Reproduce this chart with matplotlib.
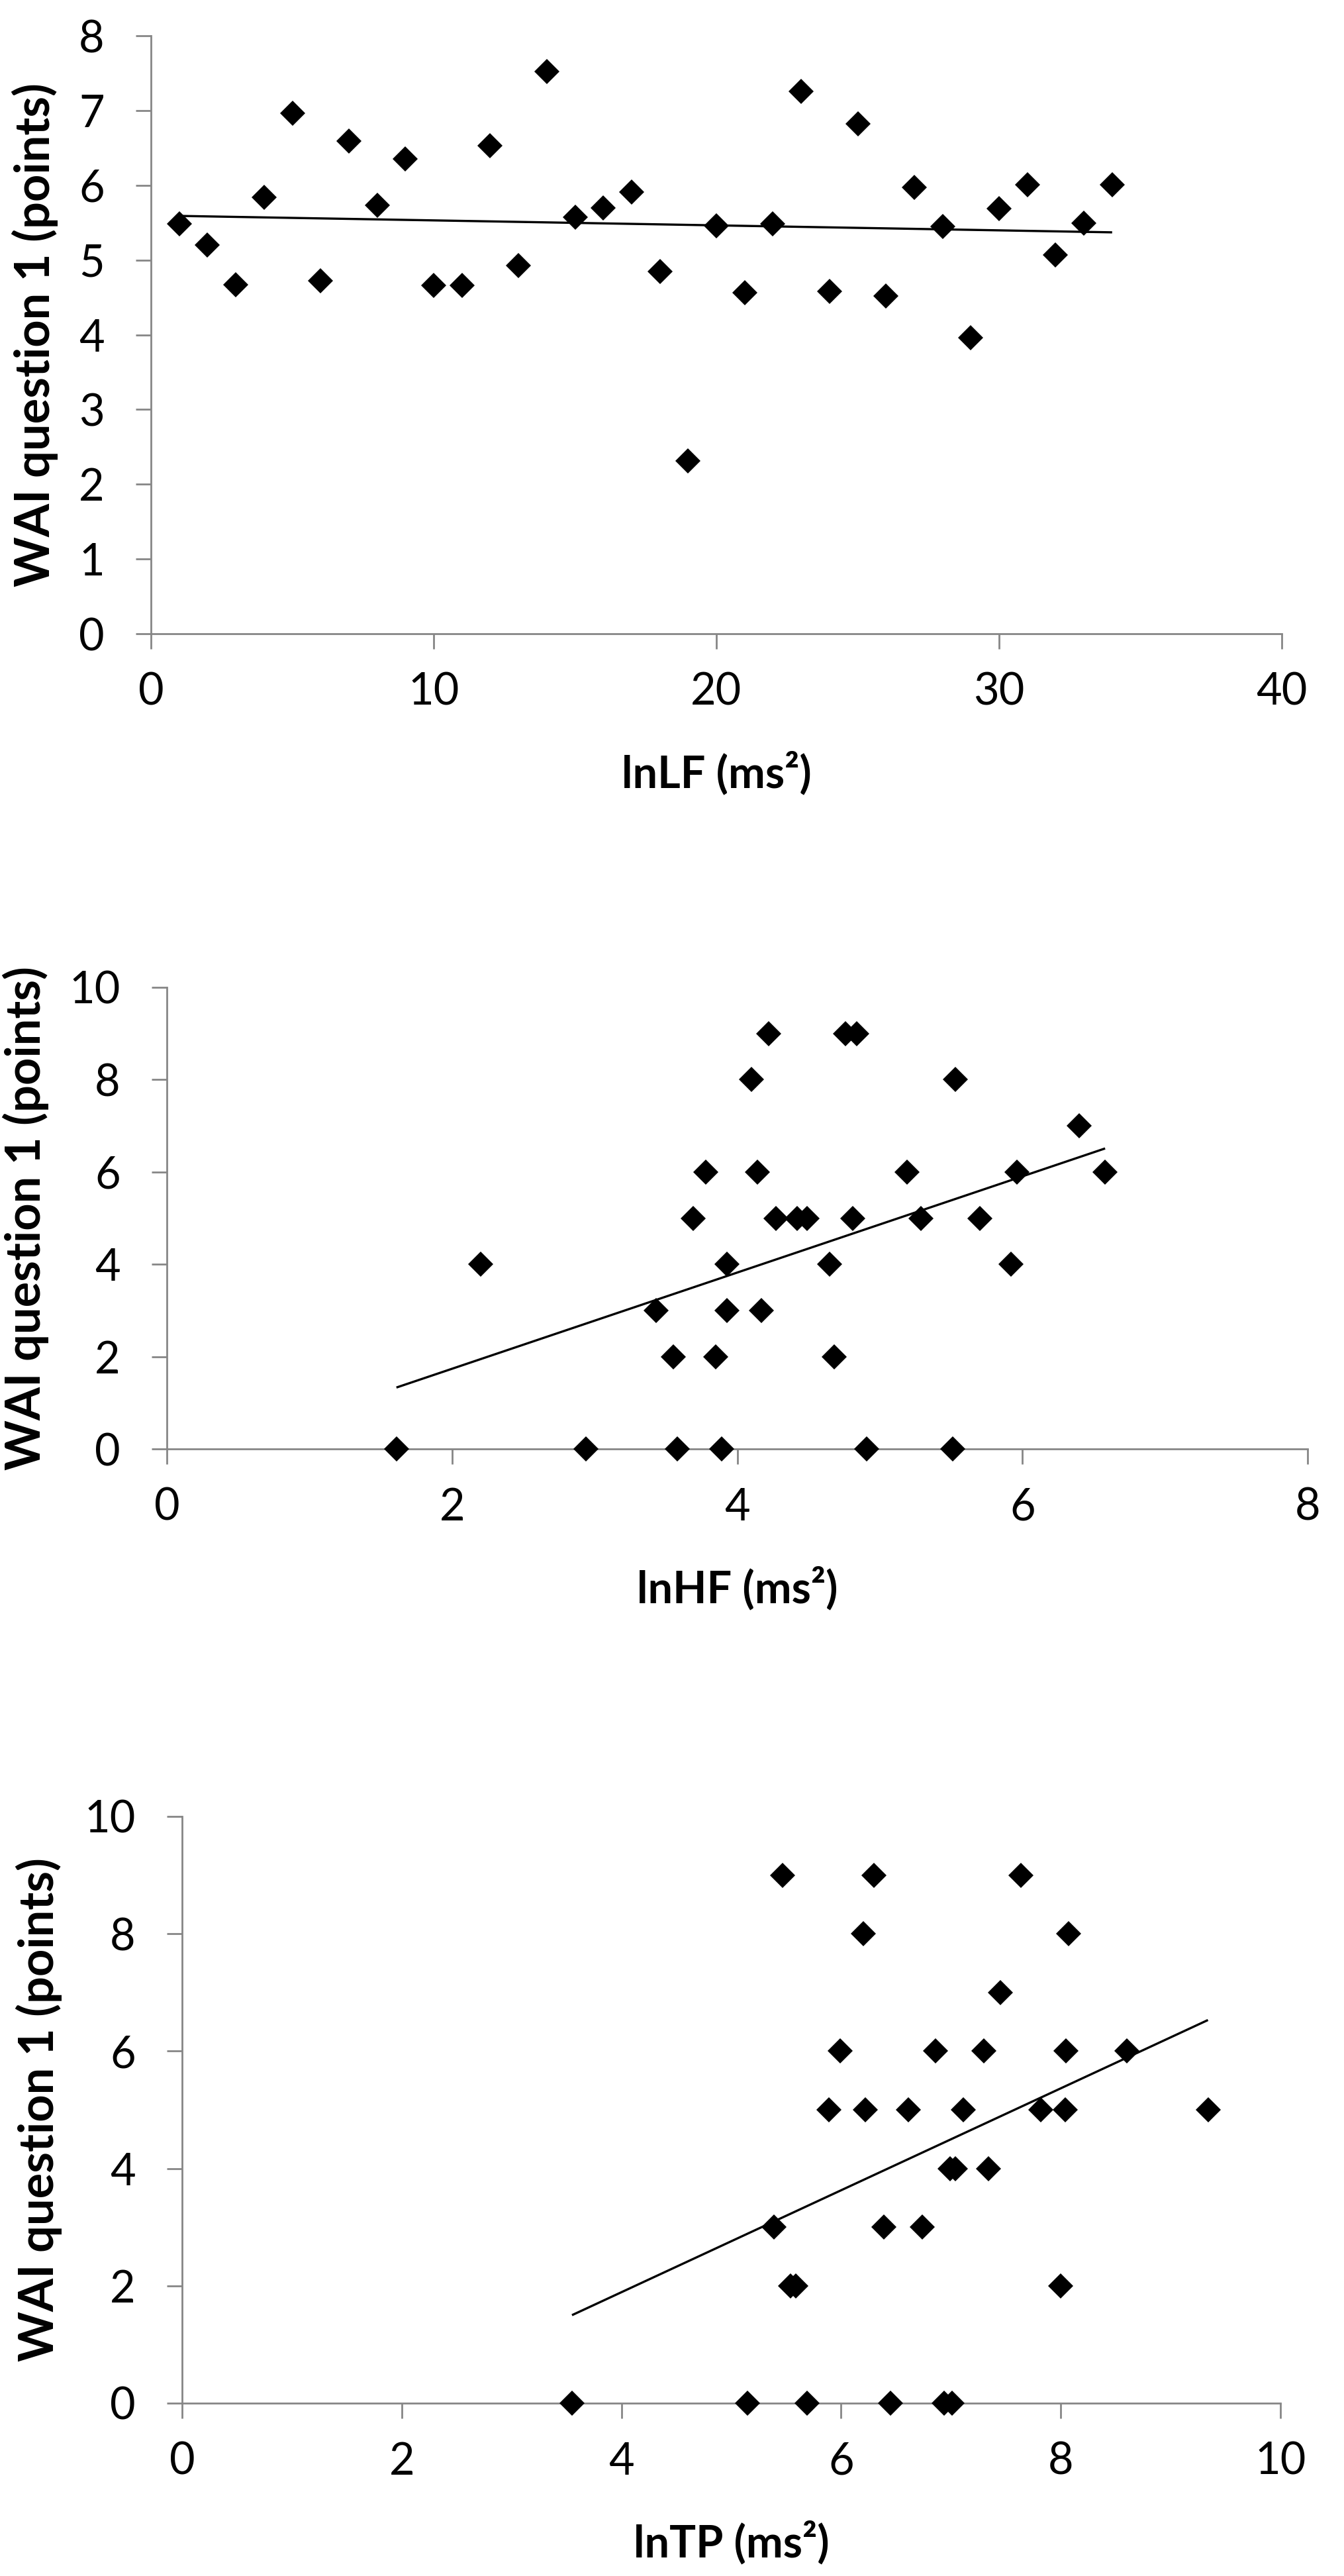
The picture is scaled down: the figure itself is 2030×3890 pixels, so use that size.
import numpy as np
import matplotlib
matplotlib.use("Agg")
import matplotlib.pyplot as plt

# ---------------- data ----------------
lf_x = list(range(1, 35))
lf_y = [5.48, 5.20, 4.67, 5.84, 6.96, 4.72, 6.59, 5.73, 6.35, 4.66, 4.66, 6.53,
        4.93, 7.52, 5.57, 5.70, 5.91, 4.85, 2.31, 5.46, 4.56, 5.48, 7.26, 4.58,
        6.82, 4.52, 5.97, 5.45, 3.96, 5.69, 6.01, 5.07, 5.49, 6.01]
lf_trend = [5.59, 5.37]          # trend-line value at min(x) and max(x)

hf_x = [1.61, 2.20, 2.94, 3.43, 3.55, 3.58, 3.89, 3.85, 3.93, 3.93, 3.69, 3.78,
        4.10, 4.22, 4.14, 4.17, 4.27, 4.42, 4.49, 4.65, 4.68, 4.76, 4.84, 4.81,
        4.91, 5.19, 5.29, 5.51, 5.53, 5.70, 5.92, 5.96, 6.40, 6.58]
hf_y = [0, 4, 0, 3, 2, 0, 0, 2, 4, 3, 5, 6,
        8, 9, 6, 3, 5, 5, 5, 4, 2, 9, 9, 5,
        0, 6, 5, 0, 8, 5, 4, 6, 7, 6]
hf_trend = [1.33, 6.51]

tp_x = [3.55, 5.15, 5.39, 5.47, 5.54, 5.59, 5.69, 5.89, 5.99, 6.20, 6.22, 6.30,
        6.39, 6.45, 6.61, 6.74, 6.86, 6.94, 6.99, 7.01, 7.04, 7.11, 7.30, 7.34,
        7.45, 7.64, 7.82, 8.00, 8.04, 8.05, 8.07, 8.60, 9.34]
tp_y = [0, 0, 3, 9, 2, 2, 0, 5, 6, 8, 5, 9,
        3, 0, 5, 3, 6, 0, 4, 0, 4, 5, 6, 4,
        7, 9, 5, 2, 5, 6, 8, 6, 5]
tp_trend = [1.50, 6.53]

ylabel_text = "WAI question 1 (points)"
xlabels = ["lnLF (ms²)", "lnHF (ms²)", "lnTP (ms²)"]
xlims = [(0, 40), (0, 8), (0, 10)]
ylims = [(0, 8), (0, 10), (0, 10)]
xticks = [[0, 10, 20, 30, 40], [0, 2, 4, 6, 8], [0, 2, 4, 6, 8, 10]]
yticks = [list(range(0, 9)), [0, 2, 4, 6, 8, 10], [0, 2, 4, 6, 8, 10]]

# ---------------- style ----------------
plt.rcParams['font.family'] = ['Lato', 'DejaVu Sans']
GRAY = '#868686'
W, H = 2030, 3890
fig = plt.figure(figsize=(W / 100, H / 100), dpi=100)

# axes boxes in pixels: (left, right, top(y max), bottom(y=0))
boxes = [(228, 1936, 54, 957), (252, 1975, 1491, 2188), (275, 1934, 2743, 3629)]
ylabel_right_px = [88, 74, 94]

series = [(lf_x, lf_y, lf_trend), (hf_x, hf_y, hf_trend), (tp_x, tp_y, tp_trend)]

for i, (xs, ys, tr) in enumerate(series):
    l, r, t, b = boxes[i]
    ax = fig.add_axes([l / W, 1 - b / H, (r - l) / W, (b - t) / H])
    ax.set_xlim(*xlims[i])
    ax.set_ylim(*ylims[i])
    ax.set_xticks(xticks[i])
    ax.set_yticks(yticks[i])
    for s in ['top', 'right']:
        ax.spines[s].set_visible(False)
    for s in ['left', 'bottom']:
        ax.spines[s].set_color(GRAY)
        ax.spines[s].set_linewidth(2.0)
    ax.tick_params(axis='both', direction='out', length=16.5, width=2.0,
                   color=GRAY, labelsize=48, labelcolor='black')
    ax.tick_params(axis='y', pad=34)
    ax.tick_params(axis='x', pad=25)

    xmin, xmax = min(xs), max(xs)
    ax.plot([xmin, xmax], tr, color='black', lw=2.4, zorder=3,
            solid_capstyle='butt')
    ax.plot(xs, ys, linestyle='none', marker='D', markersize=19,
            markerfacecolor='black', markeredgewidth=0, zorder=5, clip_on=False)

    ax.set_ylabel(ylabel_text, fontsize=52, fontweight='bold')
    ax.yaxis.set_label_coords((ylabel_right_px[i] - l) / (r - l), 0.5)
    ax.set_xlabel(xlabels[i], fontsize=48, fontweight='bold')
    ax.xaxis.set_label_coords(0.5, -(178) / (b - t))

fig.savefig('out.png', dpi=100, facecolor='white')
